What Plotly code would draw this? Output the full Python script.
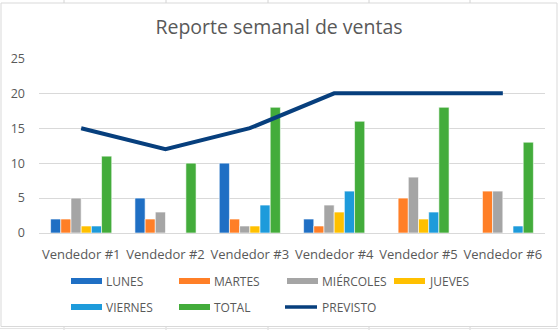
import plotly.graph_objects as go

# Weekly sales per salesperson
vendedores = ["Vendedor #1", "Vendedor #2", "Vendedor #3", "Vendedor #4", "Vendedor #5", "Vendedor #6"]
lunes = [2, 5, 10, 2, 0, 0]
martes = [2, 2, 2, 1, 5, 6]
miercoles = [5, 3, 1, 4, 8, 6]
jueves = [1, 0, 1, 3, 2, 0]
viernes = [1, 0, 4, 6, 3, 1]
total = [11, 10, 18, 16, 18, 13]
previsto = [15, 12, 15, 20, 20, 20]
y_ticks = [0, 5, 10, 15, 20, 25]

bar_series = [
    ("LUNES", lunes, "#1f6fc4"),
    ("MARTES", martes, "#ff7f27"),
    ("MIÉRCOLES", miercoles, "#a5a5a5"),
    ("JUEVES", jueves, "#ffc000"),
    ("VIERNES", viernes, "#1e9bdb"),
    ("TOTAL", total, "#43ac3b"),
]
line_name, line_color = "PREVISTO", "#073f7d"

FONT = "Open Sans"
TEXT = "#595959"
GRID = "#d9d9d9"

fig = go.Figure()
for name, vals, color in bar_series:
    fig.add_trace(go.Bar(
        x=vendedores, y=vals, name=name, showlegend=False,
        marker=dict(color=color, line=dict(color="white", width=0.6)),
    ))
fig.add_trace(go.Scatter(
    x=vendedores, y=previsto, name=line_name, mode="lines", showlegend=False,
    line=dict(color=line_color, width=4),
))

# plot area in page pixels, used to place decorations in paper units
W, H = 558, 330
L, R, T, B = 39, 545, 58, 233


def px_x(p):
    return (p - L) / (R - L)


def px_y(p):
    return (B - p) / (B - T)


shapes = []
annotations = []

# chart border
shapes.append(dict(type="rect", xref="paper", yref="paper",
                   x0=px_x(1), x1=px_x(557), y0=px_y(326.5), y1=px_y(3),
                   line=dict(color=GRID, width=1), layer="below"))
# worksheet cell lines peeking above and below the chart
for cx in [64, 166, 268, 369, 470]:
    for ya, yb in [(0, 3), (327, 330)]:
        shapes.append(dict(type="line", xref="paper", yref="paper",
                           x0=px_x(cx), x1=px_x(cx), y0=px_y(ya), y1=px_y(yb),
                           line=dict(color="#d4d4d4", width=1)))
shapes.append(dict(type="line", xref="paper", yref="paper",
                   x0=px_x(0), x1=px_x(558), y0=px_y(328.5), y1=px_y(328.5),
                   line=dict(color="#e4e4e4", width=1)))

# legend: two rows of four columns
legend_items = [(n, c, "bar") for n, _, c in bar_series] + [(line_name, line_color, "line")]
col_x = [71, 179, 287, 394]
row_y = [281, 307]
for i, (name, color, kind) in enumerate(legend_items):
    x0 = col_x[i % 4]
    yc = row_y[i // 4]
    if kind == "bar":
        shapes.append(dict(type="rect", xref="paper", yref="paper",
                           x0=px_x(x0), x1=px_x(x0 + 31), y0=px_y(yc + 3), y1=px_y(yc - 3),
                           fillcolor=color, line=dict(width=0)))
    else:
        shapes.append(dict(type="line", xref="paper", yref="paper",
                           x0=px_x(x0 - 2), x1=px_x(x0 + 30), y0=px_y(yc), y1=px_y(yc),
                           line=dict(color=color, width=3.5)))
    annotations.append(dict(text=name, xref="paper", yref="paper",
                            x=px_x(x0 + 33), y=px_y(yc), xanchor="left", yanchor="middle",
                            showarrow=False, font=dict(family=FONT, size=12, color=TEXT)))

fig.update_layout(
    width=W, height=H,
    margin=dict(l=L, r=W - R, t=T, b=H - B, pad=0),
    paper_bgcolor="white", plot_bgcolor="white",
    barmode="group", bargap=0.275, bargroupgap=0.0,
    title=dict(text="Reporte semanal de ventas", x=0.5, xanchor="center",
               y=1 - 27 / H, yanchor="middle",
               font=dict(family=FONT, size=19.5, color=TEXT)),
    font=dict(family=FONT, size=12, color=TEXT),
    xaxis=dict(showgrid=False, showline=True, linecolor=GRID, linewidth=1,
               ticks="", tickfont=dict(family=FONT, size=13, color=TEXT),
               ticklabelstandoff=9),
    yaxis=dict(range=[0, 25.05], tickvals=y_ticks, showgrid=True, gridcolor=GRID,
               gridwidth=1, zeroline=False, showline=False, ticks="",
               tickfont=dict(family=FONT, size=12.5, color=TEXT),
               ticklabelstandoff=13),
    shapes=shapes, annotations=annotations,
    showlegend=False,
)

fig.write_html("out.html")
